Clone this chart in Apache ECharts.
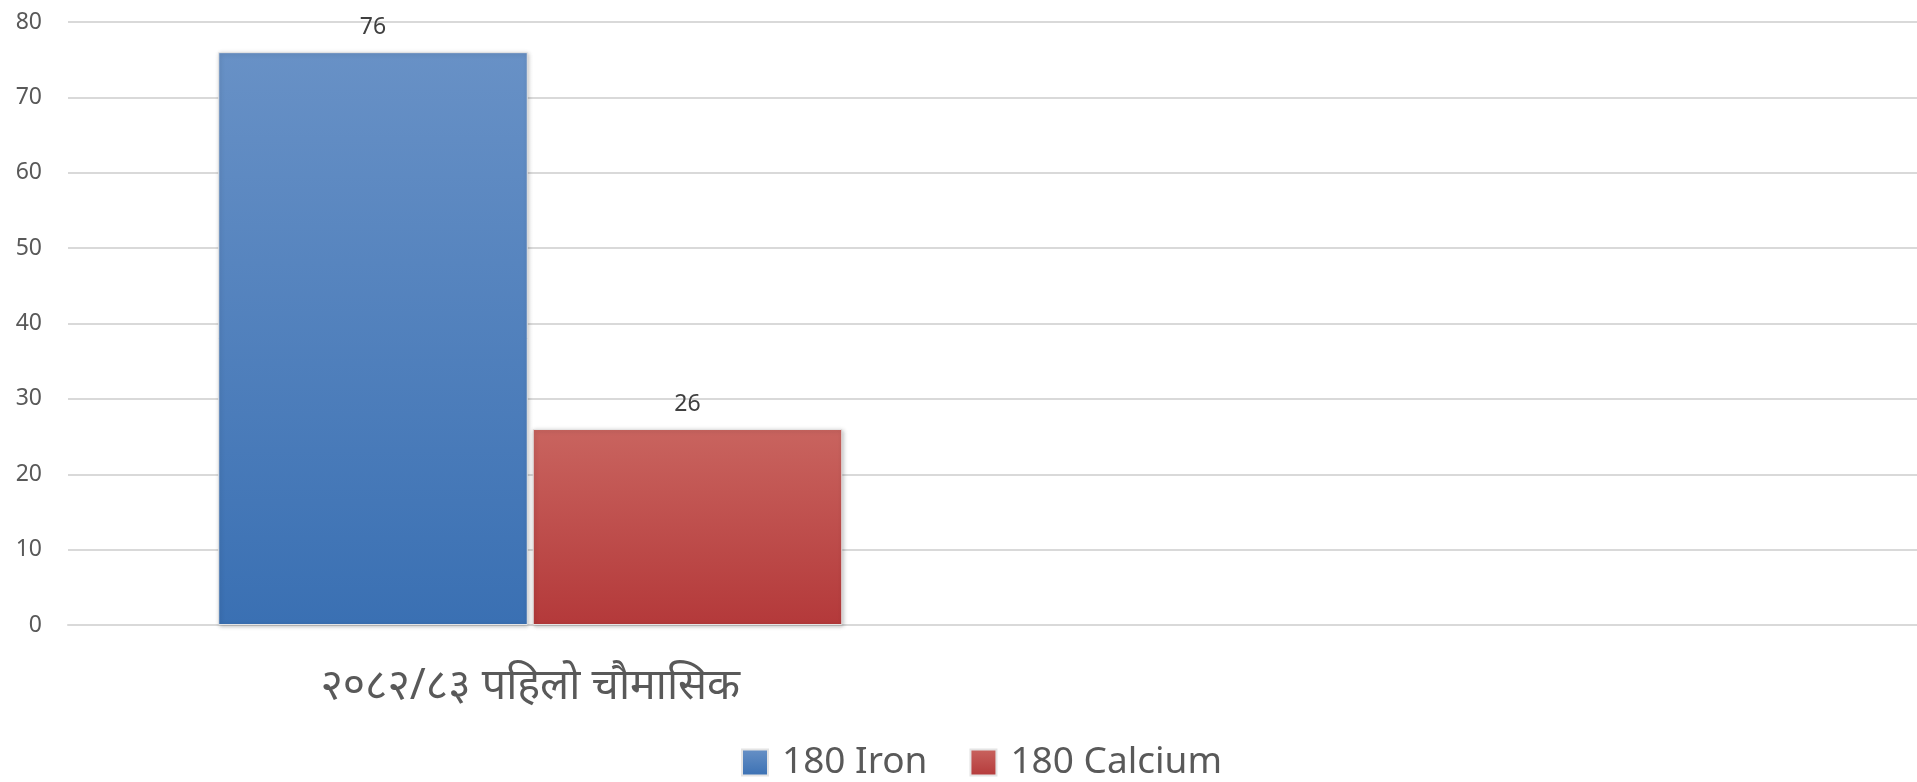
<!DOCTYPE html>
<html>
<head>
<meta charset="utf-8">
<script src="https://cdn.jsdelivr.net/npm/echarts@6/dist/echarts.min.js"></script>
<style>
html,body{margin:0;padding:0;background:#fff;}
#c{width:1917px;height:782px;}
</style>
</head>
<body>
<div id="c"></div>
<script>
const categories = ['२०८२/८३ पहिलो चौमासिक', ''];
const ironValues = [76, null];
const calciumValues = [26, null];
const seriesNames = ['180 Iron', '180 Calcium'];
const yTicks = { min: 0, max: 80, interval: 10 };

const FONT = "'Noto Sans', 'Liberation Sans', sans-serif";
const TXT = '#595959';

function grad(top, bottom) {
  return new echarts.graphic.LinearGradient(0, 0, 0, 1, [
    { offset: 0, color: top }, { offset: 1, color: bottom }
  ]);
}

const chart = echarts.init(document.getElementById('c'), null, { renderer: 'canvas' });
const barCommon = {
  type: 'bar',
  barGap: '1.6%',
  barCategoryGap: '32.5%',
  label: { show: true, position: 'top', distance: 13, color: '#404040', fontSize: 23, fontFamily: FONT },
  emphasis: { disabled: true }
};
chart.setOption({
  animation: false,
  backgroundColor: '#fff',
  grid: { left: 68, right: 0, top: 22, bottom: 157, containLabel: false },
  legend: {
    data: seriesNames,
    bottom: -4,
    left: 736,
    itemWidth: 26,
    itemHeight: 26,
    itemGap: 42,
    icon: 'rect',
    textStyle: { color: TXT, fontSize: 37, fontFamily: FONT, padding: [0, 0, 0, 9] }
  },
  xAxis: {
    type: 'category',
    data: categories,
    axisLine: { show: true, lineStyle: { color: '#d9d9d9', width: 2 } },
    axisTick: { show: false },
    axisLabel: { color: TXT, fontSize: 43, fontFamily: FONT, margin: 40 },
    splitLine: { show: false }
  },
  yAxis: {
    type: 'value',
    min: yTicks.min, max: yTicks.max, interval: yTicks.interval,
    axisLine: { show: false },
    axisTick: { show: false },
    axisLabel: { color: TXT, fontSize: 23, fontFamily: FONT, margin: 26 },
    splitLine: { lineStyle: { color: '#d9d9d9', width: 2 } }
  },
  series: [
    Object.assign({}, barCommon, {
      name: seriesNames[0], data: ironValues,
      itemStyle: { color: grad('#6891c6', '#3a70b3'), borderColor: '#e4e4e4', borderWidth: 1,
        shadowColor: 'rgba(0,0,0,0.25)', shadowBlur: 4, shadowOffsetX: 1, shadowOffsetY: 1 }
    }),
    Object.assign({}, barCommon, {
      name: seriesNames[1], data: calciumValues,
      itemStyle: { color: grad('#c9645f', '#b4393a'), borderColor: '#e4e4e4', borderWidth: 1,
        shadowColor: 'rgba(0,0,0,0.25)', shadowBlur: 4, shadowOffsetX: 1, shadowOffsetY: 1 }
    })
  ]
});
</script>
</body>
</html>
